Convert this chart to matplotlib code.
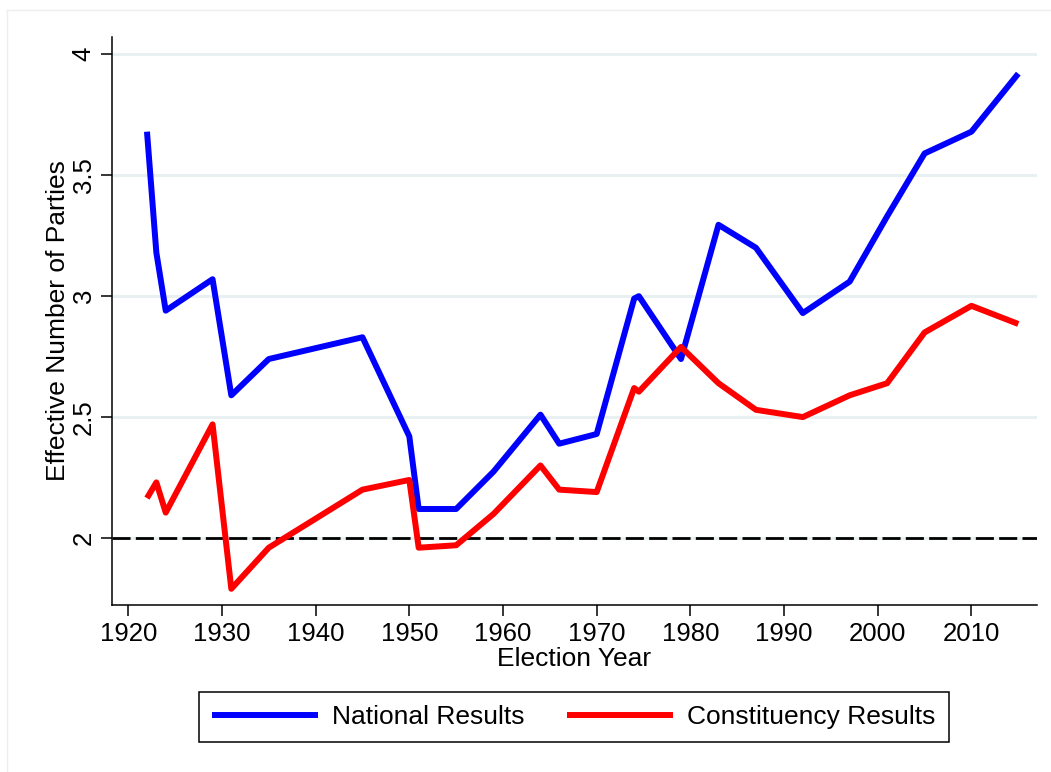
import matplotlib
matplotlib.use("Agg")
import matplotlib.pyplot as plt
from matplotlib.lines import Line2D

plt.rcParams['font.family'] = ['Liberation Sans', 'DejaVu Sans']
plt.rcParams['lines.scale_dashes'] = False

years = [1922, 1923, 1924, 1929, 1931, 1935, 1945, 1950, 1951, 1955, 1959, 1964,
         1966, 1970, 1974, 1974.5, 1979, 1983, 1987, 1992, 1997, 2001, 2005, 2010, 2015]
national = [3.68, 3.18, 2.94, 3.07, 2.59, 2.74, 2.83, 2.42, 2.12, 2.12, 2.275, 2.51,
            2.39, 2.43, 2.99, 3.00, 2.74, 3.295, 3.20, 2.93, 3.06, 3.33, 3.59, 3.68, 3.92]
constituency = [2.165, 2.23, 2.105, 2.47, 1.79, 1.96, 2.20, 2.24, 1.96, 1.97, 2.10, 2.30,
                2.20, 2.19, 2.62, 2.605, 2.79, 2.64, 2.53, 2.50, 2.59, 2.64, 2.85, 2.96, 2.885]
xticks = [1920, 1930, 1940, 1950, 1960, 1970, 1980, 1990, 2000, 2010]
yticks = [2, 2.5, 3, 3.5, 4]
yticklabels = ["2", "2.5", "3", "3.5", "4"]


def main():
    fig = plt.figure(figsize=(10.51, 7.72), dpi=100)
    ax = fig.add_axes([0.1066, 0.2163, 0.8801, 0.7358])

    ax.grid(axis='y', color='#e8f0f1', lw=2.2, zorder=0)
    ax.axhline(2, color='black', lw=2.0, dashes=(13, 3.8), zorder=2)
    ax.plot(years, national, color='#0000ff', lw=4.3, solid_capstyle='butt',
            solid_joinstyle='round', zorder=3, label="National Results")
    ax.plot(years, constituency, color='#ff0000', lw=4.3, solid_capstyle='butt',
            solid_joinstyle='round', zorder=4, label="Constituency Results")

    ax.set_xlim(1918.27, 2017.0)
    ax.set_ylim(1.723, 4.0715)
    ax.set_xticks(xticks)
    ax.set_yticks(yticks)
    ax.set_yticklabels(yticklabels, rotation=90, va='center')

    for side in ['top', 'right']:
        ax.spines[side].set_visible(False)
    for side in ['left', 'bottom']:
        ax.spines[side].set_linewidth(1.1)
    ax.tick_params(axis='both', direction='out', length=7.9, width=1.1,
                   labelsize=18.5, color='black')
    ax.tick_params(axis='x', pad=4)
    ax.tick_params(axis='y', pad=4)

    ax.set_xlabel("Election Year", fontsize=19, labelpad=1)
    ax.set_ylabel("Effective Number of Parties", fontsize=19, labelpad=1)

    handles, labels = ax.get_legend_handles_labels()
    leg = fig.legend(handles, labels, loc='center', bbox_to_anchor=(0.546, 0.0712),
                     ncol=2, fontsize=19, frameon=True, fancybox=False,
                     edgecolor='black', framealpha=1, handlelength=4.0,
                     handletextpad=0.55, columnspacing=1.6, borderpad=0.5,
                     borderaxespad=0)
    leg.get_frame().set_linewidth(1.1)

    # faint outer border of the graph region
    fig.add_artist(Line2D([7 / 1051, 7 / 1051], [0, 1 - 10 / 772], color='#eeeeee', lw=1))
    fig.add_artist(Line2D([7 / 1051, 1], [1 - 10 / 772, 1 - 10 / 772], color='#eeeeee', lw=1))

    fig.savefig("out.png", dpi=100)


if __name__ == "__main__":
    main()
